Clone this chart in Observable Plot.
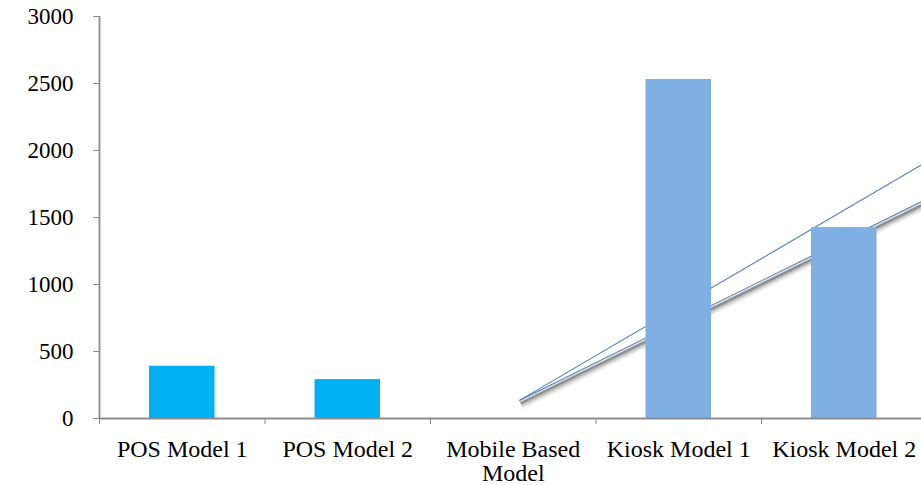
<!DOCTYPE html>
<html>
<head>
<meta charset="utf-8">
<script src="https://cdn.jsdelivr.net/npm/d3@7"></script>
<script src="https://cdn.jsdelivr.net/npm/@observablehq/plot@0.6"></script>
<style>
  html, body { margin: 0; padding: 0; background: #fff; overflow: hidden; }
  #chart svg { overflow: hidden; }
</style>
</head>
<body>
<div id="chart"></div>
<script>
// Payment channel models and their counts
const categories = ["POS Model 1", "POS Model 2", "Mobile Based Model", "Kiosk Model 1", "Kiosk Model 2"];
const tickLabels = ["POS Model 1", "POS Model 2", "Mobile Based\nModel", "Kiosk Model 1", "Kiosk Model 2"];
const values = [390, 290, 0, 2530, 1425];
const groups = ["POS", "POS", "Mobile", "Kiosk", "Kiosk"];
const yTicks = [0, 500, 1000, 1500, 2000, 2500, 3000];

// Two rising guide lines drawn behind the bars (category index, value)
const guideX = [2.54, 4.97];
const upperGuide = [137, 1895];
const lowerGuide = [137, 1620];

const rows = categories.map((name, i) => ({
  i, name, label: tickLabels[i], value: values[i], group: groups[i]
}));
const upper = guideX.map((x, k) => ({x, y: upperGuide[k]}));
const lower = guideX.map((x, k) => ({x, y: lowerGuide[k]}));

const axisGray = "#8c8c8c";
const guideBlue = "#4f7cac";
const serif = "'Liberation Serif', 'DejaVu Serif', serif";
const step = (921 + 5.5 - 99) / categories.length;

// stacked translucent strokes give the lower guide a soft cast shadow
const shadowLayers = [
  {width: 9, opacity: 0.05, dy: 5},
  {width: 7, opacity: 0.08, dy: 4.5},
  {width: 5, opacity: 0.12, dy: 4},
  {width: 3, opacity: 0.18, dy: 3.5},
  {width: 1.6, opacity: 0.25, dy: 3}
];
const shadowMarks = shadowLayers.map(s => Plot.line(lower, {
  x: "x", y: "y", dx: 1, dy: s.dy, stroke: "#222",
  strokeWidth: s.width, strokeOpacity: s.opacity, strokeLinecap: "butt"
}));

const chart = Plot.plot({
  width: 921,
  height: 485,
  marginLeft: 99,
  marginRight: 0,
  marginTop: 16,
  marginBottom: 67,
  style: {fontFamily: serif, color: "#000", background: "#fff"},
  x: {domain: [0, categories.length], range: [99, 99 + step * categories.length], axis: null},
  y: {domain: [0, 3000], axis: null},
  color: {domain: ["POS", "Mobile", "Kiosk"], range: ["#00b0f0", "#00b0f0", "#7eb0e4"]},
  marks: [
    // guide lines sit underneath the bars
    ...shadowMarks,
    Plot.line(lower, {x: "x", y: "y", stroke: guideBlue, strokeWidth: 1.1}),
    Plot.line(upper, {x: "x", y: "y", stroke: guideBlue, strokeWidth: 1.1}),
    Plot.rectY(rows, {
      x1: d => d.i, x2: d => d.i + 1, y1: 0, y2: "value",
      fill: "group", insetLeft: 50, insetRight: 50
    }),
    // axes
    Plot.ruleX([0], {stroke: axisGray, strokeWidth: 1.8}),
    Plot.ruleY([0], {stroke: axisGray, strokeWidth: 1.8}),
    Plot.axisY({
      ticks: yTicks, tickSize: 6, tickPadding: 20, stroke: axisGray, label: null,
      fontSize: 23, fontFamily: serif, fill: "#000", tickFormat: d => String(d)
    }),
    Plot.axisX({
      ticks: d3.range(categories.length + 1), tickSize: 6, stroke: axisGray,
      label: null, tickFormat: () => ""
    }),
    Plot.text(rows, {
      x: d => d.i + 0.5, y: 0, text: "label", lineAnchor: "top", dy: 22,
      fontSize: 24, fontFamily: serif, fill: "#000", lineHeight: 0.98
    })
  ]
});

document.getElementById("chart").appendChild(chart);
</script>
</body>
</html>
